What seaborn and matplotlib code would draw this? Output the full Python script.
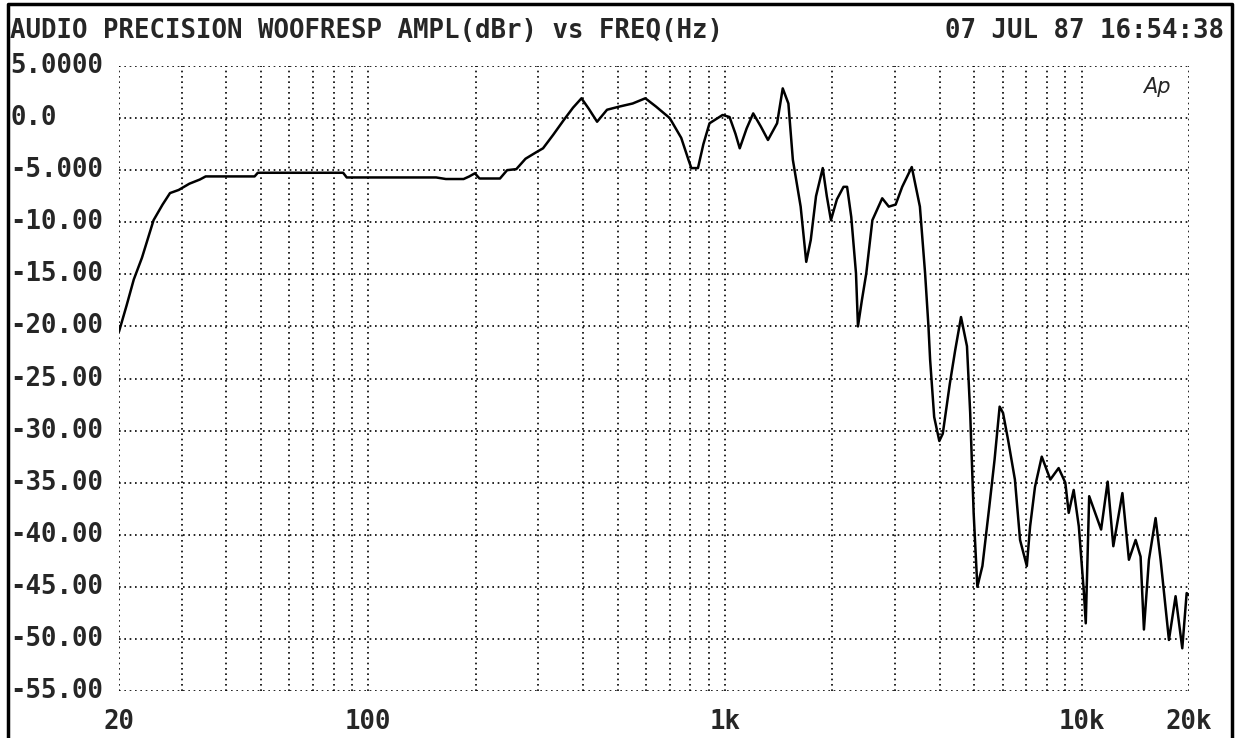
import numpy as np
import pandas as pd
import matplotlib
matplotlib.use('Agg')
import matplotlib.pyplot as plt
import matplotlib.transforms as mtransforms
from matplotlib.lines import Line2D
import seaborn as sns

# Response data
freq_hz = [20, 21, 22, 23.2, 25, 26.5, 27.8, 29.4, 31.5, 33.7, 35, 48, 49, 85, 87,
           155, 165, 185, 192, 199, 205, 234, 245, 260, 276, 295, 309, 330, 353, 375,
           396, 415, 438, 467, 505, 551, 598, 641, 700, 754, 790, 805, 840, 870, 905,
           985, 1030, 1070, 1100, 1150, 1200, 1260, 1320, 1400, 1452, 1506, 1550, 1630,
           1690, 1740, 1800, 1880, 1930, 1982, 2060, 2150, 2200, 2260, 2330, 2360, 2420,
           2490, 2590, 2760, 2880, 3010, 3140, 3340, 3520, 3640, 3720, 3760, 3860, 3990,
           4080, 4270, 4420, 4590, 4770, 4870, 4980, 5100, 5270, 5510, 5700, 5890, 6020,
           6220, 6500, 6720, 7020, 7170, 7400, 7730, 8170, 8620, 9000, 9200, 9500, 9820,
           10150, 10270, 10500, 11340, 11830, 12270, 13010, 13570, 14170, 14630, 14950,
           15440, 16120, 16650, 17570, 18340, 19150, 19700, 20000]
ampl_dbr = [-20.5, -18.0, -15.5, -13.4, -9.8, -8.3, -7.2, -6.9, -6.3, -5.9, -5.6, -5.6, -5.25, -5.25, -5.7,
            -5.7, -5.85, -5.85, -5.6, -5.3, -5.8, -5.8, -5.0, -4.9, -3.9, -3.3, -2.9, -1.6, -0.2, 1.0,
            1.9, 0.9, -0.35, 0.8, 1.1, 1.4, 1.9, 1.1, 0.0, -1.9, -4.0, -4.8, -4.8, -2.5, -0.5,
            0.3, 0.1, -1.5, -2.9, -1.0, 0.45, -0.8, -2.1, -0.5, 2.85, 1.4, -4.0, -8.5,
            -13.8, -11.7, -7.5, -4.8, -7.5, -9.8, -7.8, -6.6, -6.6, -9.5, -14.9, -20.0, -17.5,
            -14.9, -9.8, -7.7, -8.5, -8.3, -6.6, -4.7, -8.5, -14.9, -20.0, -23.2, -28.7, -31.0,
            -30.3, -25.5, -22.3, -19.1, -21.9, -28.3, -37.9, -45.0, -43.0, -37.3, -32.8, -27.7, -28.3,
            -30.9, -34.7, -40.5, -43.0, -39.2, -35.4, -32.5, -34.7, -33.6, -35.0, -37.9, -35.7, -39.2,
            -45.6, -48.5, -36.3, -39.5, -34.9, -41.1, -36.0, -42.4, -40.5, -42.1, -49.1,
            -42.4, -38.4, -42.4, -50.1, -45.9, -50.9, -45.6, -45.8]

y_ticks = [5, 0, -5, -10, -15, -20, -25, -30, -35, -40, -45, -50, -55]
y_labels = ['5.0000', '0.0', '-5.000', '-10.00', '-15.00', '-20.00', '-25.00',
            '-30.00', '-35.00', '-40.00', '-45.00', '-50.00', '-55.00']
x_grid = [20, 30, 40, 50, 60, 70, 80, 90, 100, 200, 300, 400, 500, 600, 700, 800, 900,
          1000, 2000, 3000, 4000, 5000, 6000, 7000, 8000, 9000, 10000, 20000]
x_label_pos = [20, 100, 1000, 10000, 20000]
x_labels = ['20', '100', '1k', '10k', '20k']

df = pd.DataFrame({'freq': freq_hz, 'ampl': ampl_dbr})

sns.set_style('white')
mono = ['DejaVu Sans Mono']
fs = 18.5

fig = plt.figure(figsize=(12.35, 7.38), dpi=100)
ax = fig.add_axes([119 / 1235, 1 - 691 / 738, 1070 / 1235, 625 / 738])

sns.lineplot(data=df, x='freq', y='ampl', color='black', linewidth=1.8, sort=False,
             estimator=None, ax=ax)

ax.set_xscale('log')
ax.set_xlim(20, 20000)
ax.set_ylim(-55, 5)
ax.set_xlabel('')
ax.set_ylabel('')

dot = (0, (1, 2.2))
for fx in x_grid:
    ax.axvline(fx, color='black', lw=1.2, linestyle=dot, zorder=0)
for yy in y_ticks:
    ax.axhline(yy, color='black', lw=1.2, linestyle=dot, zorder=0)
for s in ax.spines.values():
    s.set_visible(False)

ax.set_xticks([])
ax.set_yticks([])
ax.minorticks_off()

# tick labels drawn as text so they sit like the plotter output
ylab_tr = mtransforms.blended_transform_factory(fig.transFigure, ax.transData)
for yy, lab in zip(y_ticks, y_labels):
    fig.text(10 / 1235, yy, lab, transform=ylab_tr, ha='left', va='center',
             fontsize=fs, fontweight='bold', family=mono)
for fx, lab in zip(x_label_pos, x_labels):
    ax.text(fx, -0.05, lab, transform=ax.get_xaxis_transform(), ha='center', va='center',
            fontsize=fs, fontweight='bold', family=mono, clip_on=False)

fig.text(10 / 1235, 1 - 31 / 738, 'AUDIO PRECISION WOOFRESP AMPL(dBr) vs FREQ(Hz)',
         ha='left', va='center', fontsize=fs, fontweight='bold', family=mono)
fig.text(1224 / 1235, 1 - 31 / 738, '07 JUL 87 16:54:38',
         ha='right', va='center', fontsize=fs, fontweight='bold', family=mono)
fig.text(1157 / 1235, 1 - 87 / 738, 'Ap', ha='center', va='center', fontsize=15,
         style='italic', family=['DejaVu Sans'])

# outer frame of the plotter page
fig.add_artist(Line2D([8 / 1235, 8 / 1235, 1232 / 1235, 1232 / 1235],
                      [0, 1 - 4 / 738, 1 - 4 / 738, 0], transform=fig.transFigure,
                      color='black', lw=2.5))

fig.savefig('out.png', dpi=100)
